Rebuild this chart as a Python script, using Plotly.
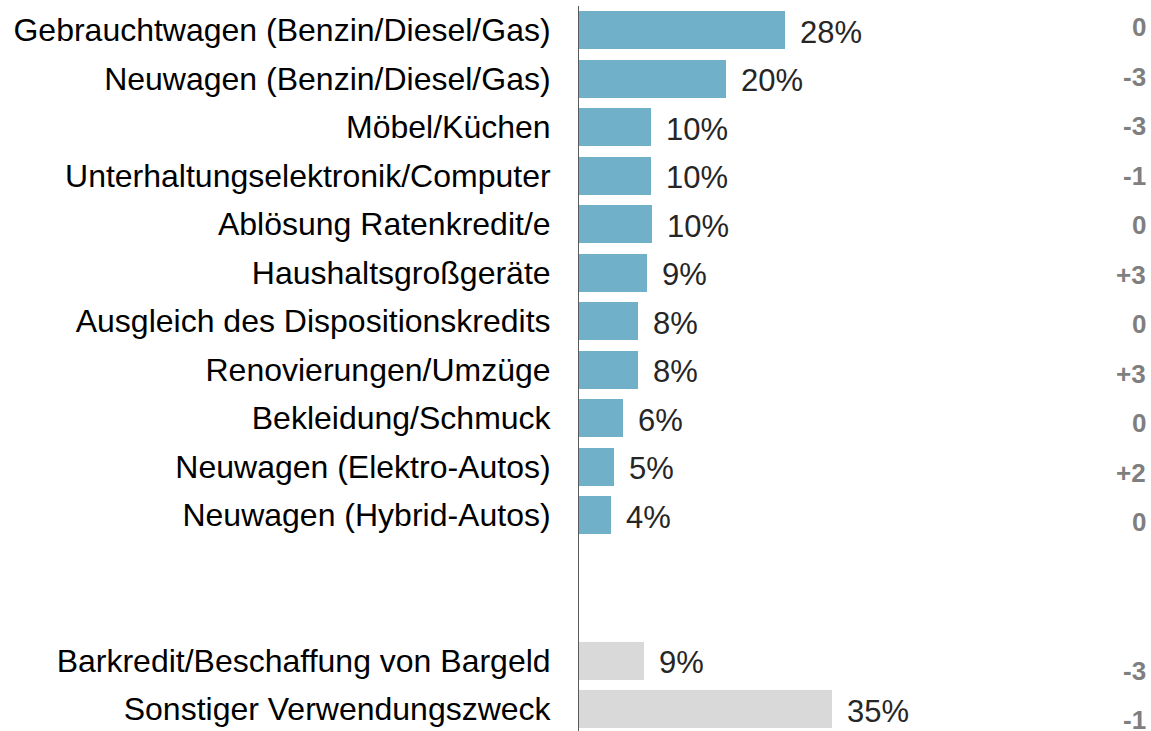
import plotly.graph_objects as go

main_categories = [
    "Gebrauchtwagen (Benzin/Diesel/Gas)",
    "Neuwagen (Benzin/Diesel/Gas)",
    "Möbel/Küchen",
    "Unterhaltungselektronik/Computer",
    "Ablösung Ratenkredit/e",
    "Haushaltsgroßgeräte",
    "Ausgleich des Dispositionskredits",
    "Renovierungen/Umzüge",
    "Bekleidung/Schmuck",
    "Neuwagen (Elektro-Autos)",
    "Neuwagen (Hybrid-Autos)",
]
main_values = [28.2, 20.1, 9.9, 9.9, 10.0, 9.3, 8.1, 8.1, 6.0, 4.8, 4.4]
main_changes = ["0", "-3", "-3", "-1", "0", "+3", "0", "+3", "0", "+2", "0"]

other_categories = [
    "Barkredit/Beschaffung von Bargeld",
    "Sonstiger Verwendungszweck",
]
other_values = [8.9, 34.7]
other_changes = ["-3", "-1"]

GAP_ROWS = 2
main_pos = list(range(len(main_categories)))
other_pos = [len(main_categories) + GAP_ROWS + i for i in range(len(other_categories))]

BLUE = "#70b0c8"
GREY_BAR = "#d9d9d9"
FONT = "Liberation Sans, Arial, sans-serif"

fig = go.Figure()
fig.add_trace(go.Bar(
    x=main_values, y=main_pos, orientation="h", width=0.78,
    marker=dict(color=BLUE, line=dict(width=0)), hoverinfo="skip",
))
fig.add_trace(go.Bar(
    x=other_values, y=other_pos, orientation="h", width=0.78,
    marker=dict(color=GREY_BAR, line=dict(width=0)), hoverinfo="skip",
))

annotations = []
for v, p in zip(main_values + other_values, main_pos + other_pos):
    annotations.append(dict(
        x=v, y=p, xref="x", yref="y", text=f"{round(v)}%", showarrow=False,
        xanchor="left", yanchor="middle", xshift=13, yshift=-2,
        font=dict(family=FONT, size=31, color="#262626"),
    ))
for c, p in zip(main_changes + other_changes, main_pos + other_pos):
    annotations.append(dict(
        x=1, y=p, xref="paper", yref="y2", text=f"<b>{c}</b>", showarrow=False,
        xanchor="right", yanchor="middle", xshift=97,
        font=dict(family=FONT, size=26, color="#7f7f7f"),
    ))

n_rows = other_pos[-1] + 1
fig.update_layout(
    width=1151, height=731,
    margin=dict(l=579, r=100, t=6, b=0),
    plot_bgcolor="white", paper_bgcolor="white",
    showlegend=False,
    bargap=0,
    annotations=annotations,
    xaxis=dict(range=[0, 64.66], visible=False, fixedrange=True),
    yaxis=dict(
        range=[n_rows - 0.55, -0.5],
        tickmode="array",
        tickvals=main_pos + other_pos,
        ticktext=main_categories + other_categories,
        tickfont=dict(family=FONT, size=32, color="#000000"),
        ticks="", ticklabelstandoff=21,
        showgrid=False, zeroline=False,
        showline=True, linecolor="#595959", linewidth=1,
        automargin=False, fixedrange=True,
    ),
    yaxis2=dict(
        range=[14.22, -0.424], overlaying="y", visible=False,
        showgrid=False, zeroline=False, fixedrange=True,
    ),
)

fig.write_html(
    "out.html",
    config={"displayModeBar": False, "staticPlot": True},
    post_script="document.body.style.margin='0';document.body.style.overflow='hidden';",
)
